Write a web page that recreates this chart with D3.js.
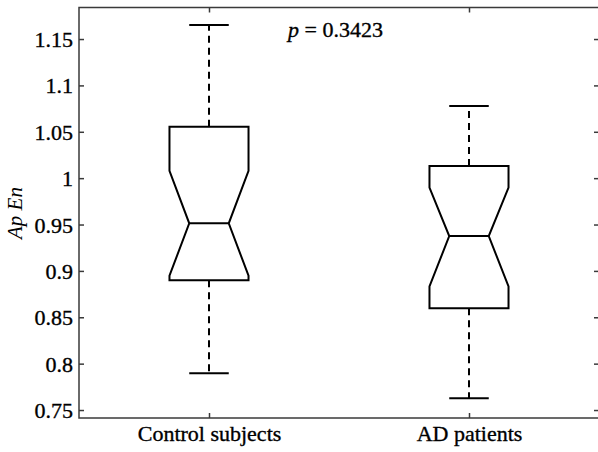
<!DOCTYPE html>
<html lang="en">
<head>
  <meta charset="UTF-8">
  <title>ApEn boxplot</title>
  <style>
  body { margin: 0; background: #fff; }
  #chart { width: 598px; height: 452px; overflow: hidden; }
  </style>
</head>
<body>
  <div id="chart"></div>
  <script src="https://cdn.jsdelivr.net/npm/d3@7"></script>
  <script>

// values
const categories = ['Control subjects', 'AD patients']
const whiskerLow = [0.7896, 0.7626]
const q1 = [0.890, 0.8596]
const notchLow = [0.8948, 0.8832]
const median = [0.9513, 0.9376]
const notchHigh = [1.0078, 0.9898]
const q3 = [1.0554, 1.0130]
const whiskerHigh = [1.1650, 1.0777]
const yTicks = [0.75, 0.8, 0.85, 0.9, 0.95, 1, 1.05, 1.1, 1.15]
const pText = '0.3423'

const W = 598, H = 452
const mLeft = 79, mRight = 599, mTop = 7.5, mBottom = 418
const font = 'Liberation Serif'
const fs = 22

const svg = d3.select('#chart').append('svg')
  .attr('width', W).attr('height', H)

const x = d3.scaleLinear().domain([0.5, 2.5]).range([mLeft, mRight])
const y = d3.scaleLinear().domain([0.7414, 1.184]).range([mBottom, mTop])

const boxes = categories.map((c, i) => ({
  i: i + 1, name: c,
  wl: whiskerLow[i], q1: q1[i], nl: notchLow[i], md: median[i],
  nh: notchHigh[i], q3: q3[i], wh: whiskerHigh[i]
}))

const bw = 0.152, nw = 0.076, cw = 0.076

const g = svg.append('g')

// whiskers
g.selectAll('.wh').data(boxes).join('g').each(function(d) {
  const s = d3.select(this)
  s.append('line').attr('x1', x(d.i)).attr('x2', x(d.i))
    .attr('y1', y(d.q3)).attr('y2', y(d.wh))
  s.append('line').attr('x1', x(d.i)).attr('x2', x(d.i))
    .attr('y1', y(d.q1)).attr('y2', y(d.wl))
}).selectAll('line')
  .attr('stroke', '#000').attr('stroke-width', 2).attr('stroke-dasharray', '7,5')

// caps
g.selectAll('.capHi').data(boxes).join('line')
  .attr('x1', d => x(d.i - cw)).attr('x2', d => x(d.i + cw))
  .attr('y1', d => y(d.wh)).attr('y2', d => y(d.wh))
  .attr('stroke', '#000').attr('stroke-width', 2)
g.selectAll('.capLo').data(boxes).join('line')
  .attr('x1', d => x(d.i - cw)).attr('x2', d => x(d.i + cw))
  .attr('y1', d => y(d.wl)).attr('y2', d => y(d.wl))
  .attr('stroke', '#000').attr('stroke-width', 2)

// notched boxes
const line = d3.line()
g.selectAll('.box').data(boxes).join('path')
  .attr('d', d => line([
    [x(d.i - bw), y(d.q1)], [x(d.i - bw), y(d.nl)], [x(d.i - nw), y(d.md)],
    [x(d.i - bw), y(d.nh)], [x(d.i - bw), y(d.q3)], [x(d.i + bw), y(d.q3)],
    [x(d.i + bw), y(d.nh)], [x(d.i + nw), y(d.md)], [x(d.i + bw), y(d.nl)],
    [x(d.i + bw), y(d.q1)]
  ]) + 'Z')
  .attr('fill', 'none').attr('stroke', '#000').attr('stroke-width', 2)
  .attr('stroke-linejoin', 'miter')

// medians
g.selectAll('.med').data(boxes).join('line')
  .attr('x1', d => x(d.i - nw)).attr('x2', d => x(d.i + nw))
  .attr('y1', d => y(d.md)).attr('y2', d => y(d.md))
  .attr('stroke', '#000').attr('stroke-width', 2)

// axes, ticks pointing in
const axisColor = '#3a3a3a'
function style(sel) {
  sel.attr('font-family', font).attr('font-size', fs)
  sel.select('.domain').remove()
  sel.selectAll('.tick line').attr('stroke', axisColor).attr('stroke-width', 1.5)
  sel.selectAll('text').attr('fill', '#000').attr('stroke', '#000').attr('stroke-width', 0.35)
}

svg.append('g').attr('transform', `translate(${mLeft},0)`)
  .call(d3.axisLeft(y).tickValues(yTicks).tickSize(-5).tickPadding(6)
    .tickFormat(d => String(d)))
  .call(style)
  .call(s => s.selectAll('text').attr('dy', '0.34em'))

svg.append('g').attr('transform', `translate(${mRight},0)`)
  .call(d3.axisRight(y).tickValues(yTicks).tickSize(-5).tickFormat(''))
  .call(style)

svg.append('g').attr('transform', `translate(0,${mBottom})`)
  .call(d3.axisBottom(x).tickValues([1, 2]).tickSize(-5).tickPadding(7)
    .tickFormat(d => categories[d - 1]))
  .call(style)

svg.append('g').attr('transform', `translate(0,${mTop})`)
  .call(d3.axisTop(x).tickValues([1, 2]).tickSize(-5).tickFormat(''))
  .call(style)

// frame
svg.append('rect')
  .attr('x', mLeft).attr('y', mTop)
  .attr('width', mRight - mLeft).attr('height', mBottom - mTop)
  .attr('fill', 'none').attr('stroke', axisColor).attr('stroke-width', 1.5)

// y label
svg.append('text')
  .attr('transform', `translate(22,${(188 + 238) / 2}) rotate(-90)`)
  .attr('text-anchor', 'middle').attr('font-family', font)
  .attr('font-size', 21).attr('font-style', 'italic').attr('fill', '#000')
  .text('Ap En')

// p value
const pt = svg.append('text')
  .attr('transform', `translate(288,${y(1.15) - 2})`)
  .attr('font-family', font).attr('font-size', fs).attr('fill', '#000')
  .attr('stroke', '#000').attr('stroke-width', 0.35)
pt.append('tspan').attr('font-style', 'italic').text('p')
pt.append('tspan').text(' = ' + pText)

  </script>
</body>
</html>
